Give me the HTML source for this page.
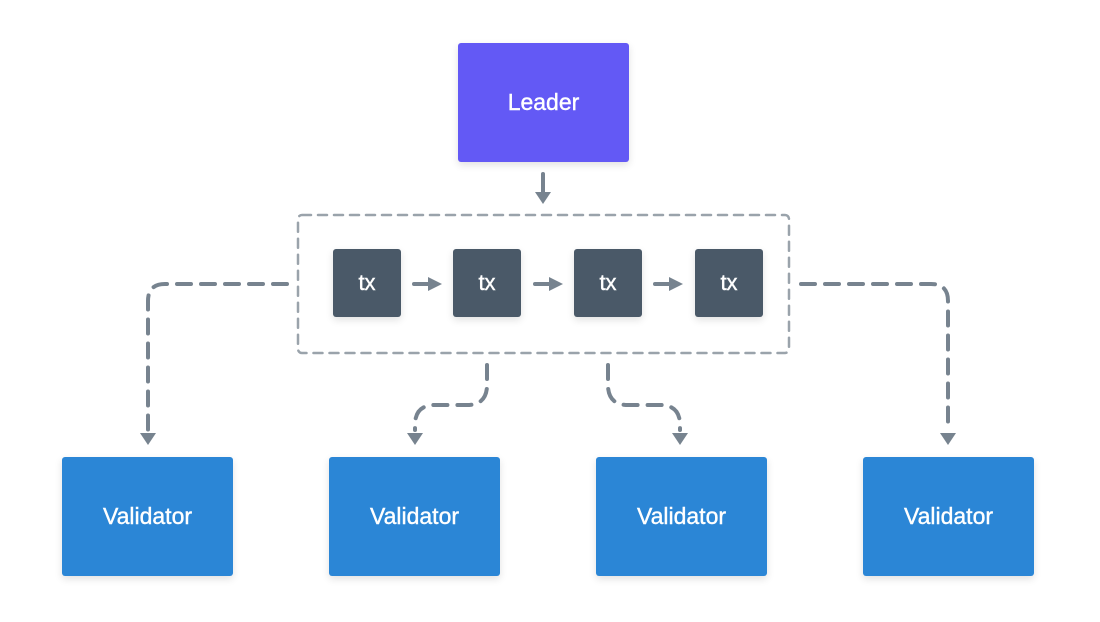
<!DOCTYPE html>
<html><head><style>
body{margin:0;background:#fff;width:1100px;height:622px;overflow:hidden;position:relative;font-family:"Liberation Sans",sans-serif}
.b{position:absolute;display:flex;align-items:center;justify-content:center;color:#fff;border-radius:3px;box-shadow:0 3px 8px rgba(0,0,0,.12);font-weight:500;-webkit-text-stroke:0.4px #fff}
.v{background:#2B86D6;width:171px;height:119px;top:457px;font-size:23px}
.t{background:#4A5968;width:68px;height:68px;top:249px;font-size:22px}
</style></head><body>
<div class="b" style="background:#6359F5;left:458px;top:43px;width:171px;height:119px;font-size:23px">Leader</div>
<svg width="1100" height="622" style="position:absolute;left:0;top:0">
<g fill="none" stroke="#77838F" stroke-width="4" stroke-linecap="round">
<rect x="298" y="215" width="491" height="138" rx="4" stroke-width="2.5" stroke="#9aa3ab" stroke-dasharray="9 7"/>
<line x1="543" y1="174" x2="543" y2="194"/>
<line x1="414" y1="284" x2="430" y2="284"/><line x1="535" y1="284" x2="551" y2="284"/><line x1="655" y1="284" x2="671" y2="284"/>
<g stroke-dasharray="14 10">
<path d="M287 284 H165 Q148 284 148 301 V430"/>
<path d="M801 284 H931 Q948 284 948 301 V430"/>
<path d="M487 365 V385 Q487 405 467 405 H435 Q415 405 415 425 V430"/>
<path d="M608 365 V385 Q608 405 628 405 H660 Q680 405 680 425 V430"/>
</g></g>
<g fill="#77838F">
<path d="M535 192 H551 L543 204Z"/>
<path d="M428 277 L442 284 L428 291Z"/><path d="M549 277 L563 284 L549 291Z"/><path d="M669 277 L683 284 L669 291Z"/>
<path d="M140 433 H156 L148 445Z"/><path d="M940 433 H956 L948 445Z"/>
<path d="M407 433 H423 L415 445Z"/><path d="M672 433 H688 L680 445Z"/>
</g></svg>
<div class="b t" style="left:333px">tx</div>
<div class="b t" style="left:453px">tx</div>
<div class="b t" style="left:574px">tx</div>
<div class="b t" style="left:695px">tx</div>
<div class="b v" style="left:62px">Validator</div>
<div class="b v" style="left:329px">Validator</div>
<div class="b v" style="left:596px">Validator</div>
<div class="b v" style="left:863px">Validator</div>
</body></html>
